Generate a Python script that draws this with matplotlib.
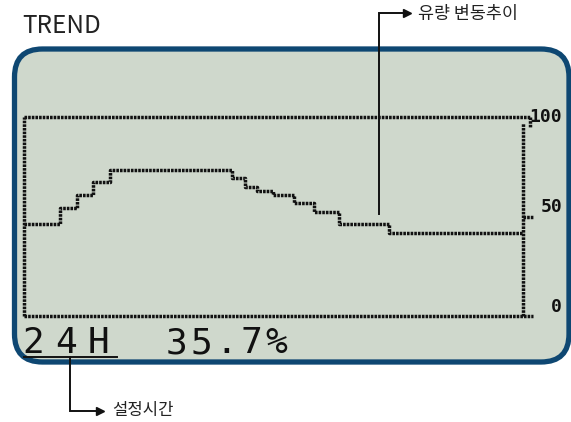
import matplotlib
matplotlib.use("Agg")
import matplotlib.pyplot as plt
from matplotlib.patches import FancyBboxPatch

# flow trend over the set period (hours, % of full scale)
hours = [0, 1.73, 2.55, 3.32, 4.14, 10.0, 10.63, 11.21, 11.98, 12.99, 13.95, 15.15, 17.56, 24]
flow = [46.2, 54.3, 60.8, 67.3, 73.4, 69.3, 64.8, 62.8, 60.8, 56.8, 52.3, 46.2, 41.7]
y_ticks = [0, 50, 100]
y_tick_labels = ["0", "50", "100"]
period_label = "24H"
value_label = "35.7%"
title = "TREND"
trend_note = "유량 변동추이"
period_note = "설정시간"

W, H = 571, 422
LCD_BG = "#cfd8cc"
BORDER = "#0e4772"
INK = "#111111"
KR = ["Noto Sans CJK KR", "DejaVu Sans"]
MONO = "DejaVu Sans Mono"

fig = plt.figure(figsize=(W / 100, H / 100), dpi=100)
bg = fig.add_axes([0, 0, 1, 1])
bg.set_xlim(0, W)
bg.set_ylim(H, 0)
bg.axis("off")

# LCD panel
bg.add_patch(FancyBboxPatch((14.5, 49), 569 - 14.5, 362 - 49,
                            boxstyle="round,pad=0,rounding_size=28",
                            fc=LCD_BG, ec=BORDER, lw=3.8))

# chart area on the LCD
x0, x1, ytop, ybot = 24, 523, 117, 316
ax = fig.add_axes([x0 / W, 1 - ybot / H, (x1 - x0) / W, (ybot - ytop) / H])
ax.set_xlim(0, 24)
ax.set_ylim(0, 100)
ax.axis("off")

dots = dict(color=INK, lw=2.5, linestyle=(0, (0.75, 0.3)),
            dash_capstyle="butt", clip_on=False)
ax.step(hours, flow + [flow[-1]], where="post", **dots)

tick_len = 0.48
ax.plot([0, 0], [0, 100], **dots)
ax.plot([0, 24 + 0.34], [100, 100], **dots)
ax.plot([24 + 0.34, 24 + 0.34], [100, 95], **dots)
ax.plot([0, 24 + tick_len], [0, 0], **dots)
ax.plot([24, 24], [0, 97], **dots)
for v in y_ticks[1:-1]:
    ax.plot([24, 24 + tick_len], [v, v], **dots)

lab_x = 24 + 39 / 20.79
for v, s in zip(y_ticks, y_tick_labels):
    ax.text(lab_x, v, s, ha="right",
            va="center" if v == y_ticks[-1] else "bottom",
            fontsize=13, family=MONO, weight="bold", color=INK)


def lcd_text(s, x_start, pitch, y):
    for i, ch in enumerate(s):
        bg.text(x_start + i * pitch, y, ch, ha="center", va="baseline",
                fontsize=26, family=MONO, color=INK)


lcd_text(period_label, 33.5, 32.7, 353)
lcd_text(value_label, 176, 25, 353)

bg.text(22, 33, title, ha="left", va="baseline", fontsize=17.5,
        family=KR, color="#222222")

# callouts
bg.plot([379, 379, 405], [214, 13, 13], color=INK, lw=1.4, solid_joinstyle="miter")
bg.plot([407], [13], marker=">", ms=6, color=INK)
bg.text(418, 13.5, trend_note, ha="left", va="center", fontsize=12.5,
        family=KR, color="#222222")

bg.plot([24, 117], [357, 357], color=INK, lw=1.4)
bg.plot([70, 70, 98], [357, 411, 411], color=INK, lw=1.4, solid_joinstyle="miter")
bg.plot([100], [411], marker=">", ms=6, color=INK)
bg.text(112, 410.5, period_note, ha="left", va="center", fontsize=12,
        family=KR, color="#222222")

fig.savefig("out.png", dpi=100)
